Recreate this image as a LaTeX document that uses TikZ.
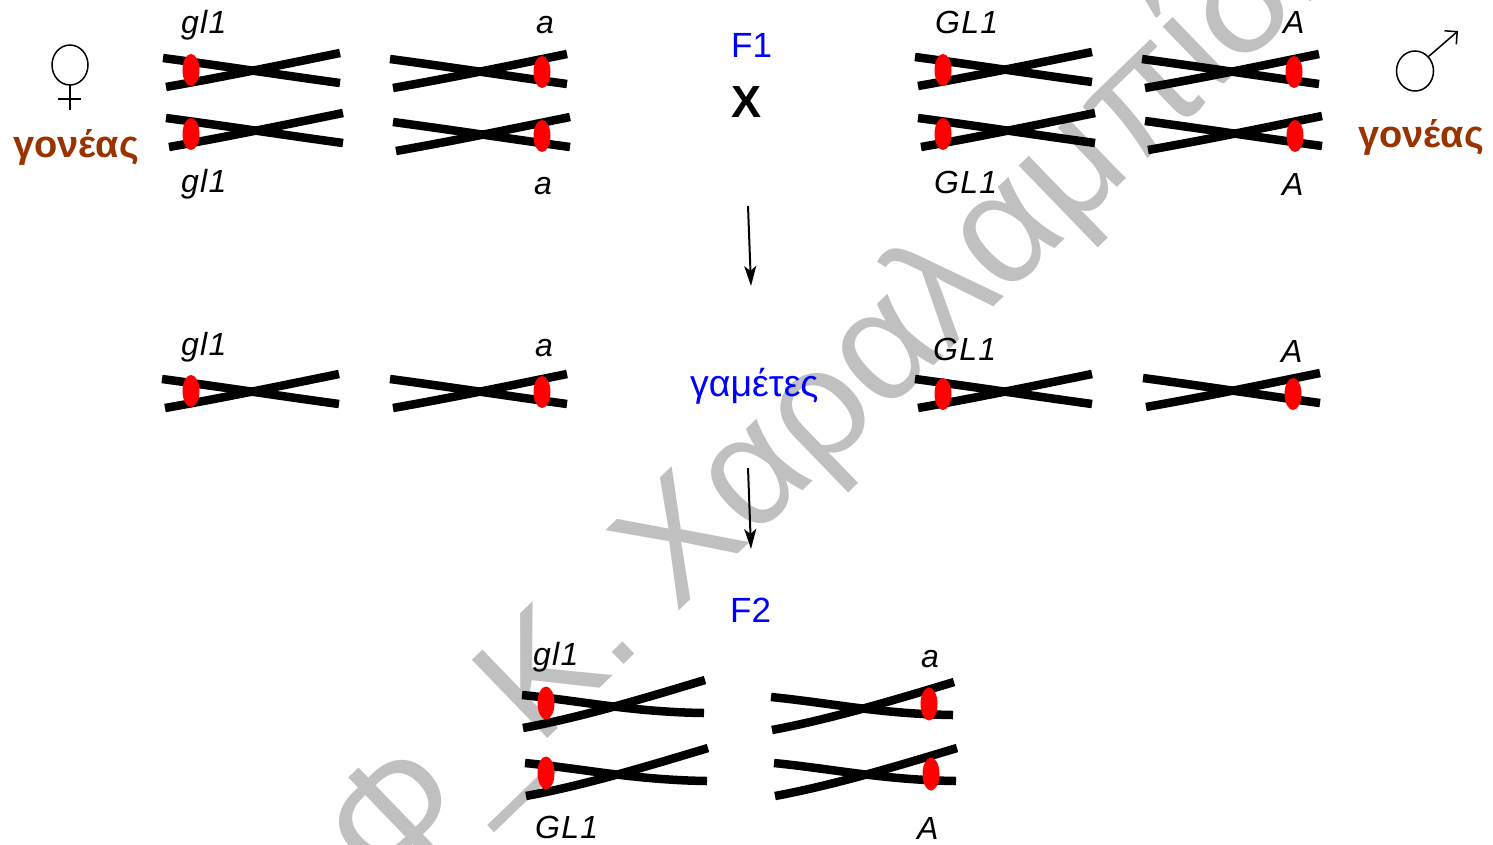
\documentclass[tikz,border=0pt]{standalone}
\usepackage{fontspec}
\setmainfont{Liberation Sans}
\newfontfamily\allelefont[LetterSpace=4]{Liberation Sans}
\usetikzlibrary{arrows.meta}

\definecolor{parentbrown}{RGB}{153,51,0}
\definecolor{genblue}{RGB}{0,0,255}
\definecolor{wmgray}{RGB}{192,192,192}
\definecolor{centred}{RGB}{255,0,0}

\tikzset{
  chromline/.style={line width=8.5pt, line cap=butt},
  centro/.style={fill=centred},
  allele/.style={font=\allelefont\itshape\fontsize{32}{36}\selectfont, inner sep=0pt, anchor=base west},
  gen/.style={text=genblue, font=\fontsize{35}{40}\selectfont, inner sep=0pt, anchor=base west},
  parent/.style={text=parentbrown, font=\bfseries\fontsize{38}{42}\selectfont, inner sep=0pt, anchor=base west},
  sexsym/.style={line width=1.5pt},
  flow/.style={line width=2pt, -{Stealth[length=20pt,width=12pt,inset=5pt]}},
  wmark/.style={text=wmgray, font=\fontsize{158}{160}\selectfont, inner sep=0pt, anchor=base west, rotate=44},
  % chromosome of the parent and gamete rows, origin at the upper left end
  pics/xchrom/.style={code={
      \draw[chromline] (0,0) .. controls (60,8) and (118,17) .. (177,25);
      \draw[chromline] (3,29) .. controls (60,19) and (118,7) .. (177,-5);
  }},
  % chromosome of the F2 row, origin at the upper left end
  pics/fchrom/.style={code={
      \draw[chromline] (0,0) .. controls (60,6) and (110,17) .. (182,18);
      \draw[chromline] (1,33) .. controls (60,22) and (120,4) .. (183,-15);
  }},
}

\begin{document}
\begin{tikzpicture}[x=1pt,y=-1pt]
\useasboundingbox (0,0) rectangle (1493,844);
\clip (0,0) rectangle (1493,844);
\fill[white] (0,0) rectangle (1493,844);

% watermark
\node[wmark] (wm) at (384,896) {Φ\_Κ. Χαραλαμπίδης};

% ---- parents ----
% female parent: gl1 / a
\pic at (163,58) {xchrom};
\pic at (166,118) {xchrom};
\pic at (390,59) {xchrom};
\pic at (393,122) {xchrom};
\fill[centro] (191,70) ellipse [x radius=8.5pt, y radius=16pt];
\fill[centro] (191,134) ellipse [x radius=8.5pt, y radius=16pt];
\fill[centro] (542,72) ellipse [x radius=8.5pt, y radius=16pt];
\fill[centro] (542,136) ellipse [x radius=8.5pt, y radius=16pt];

% male parent: GL1 / A
\pic at (915,57) {xchrom};
\pic at (918,118) {xchrom};
\pic at (1142,59) {xchrom};
\pic at (1145,121) {xchrom};
\fill[centro] (943,70) ellipse [x radius=8.5pt, y radius=16pt];
\fill[centro] (943,134) ellipse [x radius=8.5pt, y radius=16pt];
\fill[centro] (1294,72) ellipse [x radius=8.5pt, y radius=16pt];
\fill[centro] (1295,136) ellipse [x radius=8.5pt, y radius=16pt];

\node[allele] (pf-gl1a) at (181,33) {gl1};
\node[allele] (pf-gl1b) at (181,192) {gl1};
\node[allele] (pf-aa) at (536,33) {a};
\node[allele] (pf-ab) at (534,194) {a};
\node[allele] (pm-GL1a) at (935,33) {GL1};
\node[allele] (pm-GL1b) at (934,193) {GL1};
\node[allele] (pm-Aa) at (1283,33) {A};
\node[allele] (pm-Ab) at (1282,195) {A};

% sex symbols and parent captions
\draw[sexsym] (70,65) ellipse [x radius=18pt, y radius=20pt];
\draw[sexsym] (70,85) -- (70,110);
\draw[sexsym] (58,99) -- (81,99);
\node[parent] (par-f) at (13,157) {γονέας};

\draw[sexsym] (1415,71) ellipse [x radius=18.5pt, y radius=20pt];
\coordinate (mstart) at (1428,57);
\coordinate (mtip) at (1458,31);
\draw[sexsym, -{Straight Barb[length=9pt,width=18pt]}] (mstart) -- (mtip);
\node[parent] (par-m) at (1358,147) {γονέας};

% cross
\node[gen] (f1) at (731,57) {F1};
\node[inner sep=0pt, anchor=base west, font=\bfseries\fontsize{45}{48}\selectfont] (cross) at (731,117) {X};

% arrows
\coordinate (a1s) at (748,206);
\coordinate (a1e) at (751,286);
\draw[flow] (a1s) -- (a1e);
\coordinate (a2s) at (748,468);
\coordinate (a2e) at (751,549);
\draw[flow] (a2s) -- (a2e);

% ---- gametes ----
\pic at (162,379) {xchrom};
\pic at (390,379) {xchrom};
\pic at (915,379) {xchrom};
\pic at (1143,378) {xchrom};
\fill[centro] (191,391) ellipse [x radius=8.5pt, y radius=16pt];
\fill[centro] (542,392) ellipse [x radius=8.5pt, y radius=16pt];
\fill[centro] (943,394) ellipse [x radius=8.5pt, y radius=16pt];
\fill[centro] (1293,394) ellipse [x radius=8.5pt, y radius=16pt];

\node[allele] (g-gl1) at (181,355) {gl1};
\node[allele] (g-a) at (535,356) {a};
\node[allele] (g-GL1) at (933,360) {GL1};
\node[allele] (g-A) at (1281,362) {A};
\node[gen, font=\fontsize{37.5}{42}\selectfont] (gam) at (690,396) {γαμέτες};

% ---- F2 ----
\node[gen] (f2) at (730,622) {F2};
\pic at (522,695) {fchrom};
\pic at (525,763) {fchrom};
\pic at (771,697) {fchrom};
\pic at (774,763) {fchrom};
\fill[centro] (546,703) ellipse [x radius=8.5pt, y radius=16.5pt];
\fill[centro] (546,773) ellipse [x radius=8.5pt, y radius=16.5pt];
\fill[centro] (929,704) ellipse [x radius=8.5pt, y radius=16.5pt];
\fill[centro] (931,774) ellipse [x radius=8.5pt, y radius=16.5pt];

\node[allele] (f2-gl1) at (533,665) {gl1};
\node[allele] (f2-GL1) at (535,838) {GL1};
\node[allele] (f2-a) at (921,667) {a};
\node[allele] (f2-A) at (917,839) {A};
\end{tikzpicture}
\end{document}
